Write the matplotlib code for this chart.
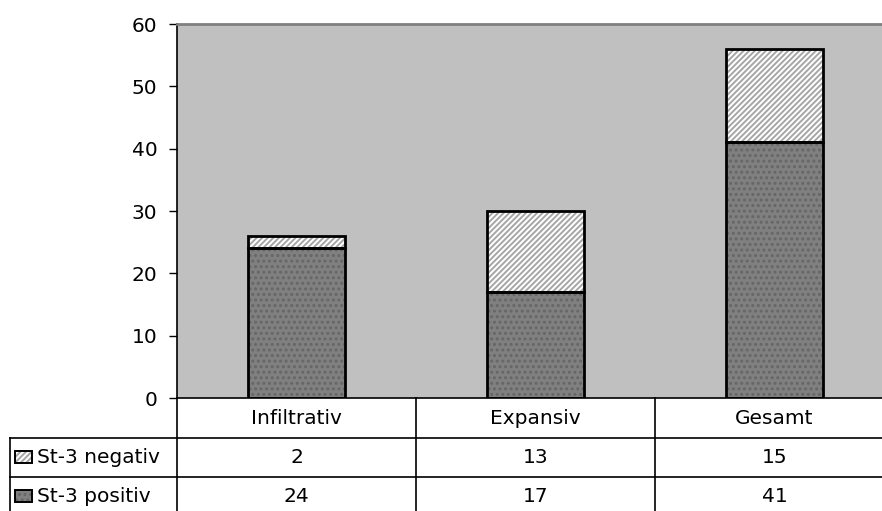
import matplotlib
matplotlib.use("Agg")
import matplotlib.pyplot as plt
from matplotlib.patches import Rectangle
from matplotlib.lines import Line2D
from matplotlib.transforms import blended_transform_factory

plt.rcParams['font.family'] = ['DejaVu Sans']
plt.rcParams['hatch.linewidth'] = 1.4

categories = ["Infiltrativ", "Expansiv", "Gesamt"]
series_names = ["St-3 negativ", "St-3 positiv"]
negativ = [2, 13, 15]
positiv = [24, 17, 41]
y_ticks = [0, 10, 20, 30, 40, 50, 60]

FS = 14.5
W, H = 882, 511
fig = plt.figure(figsize=(W / 100, H / 100), dpi=100)
fig.patch.set_facecolor("white")

def fx(px):
    return px / W

def fy(py):
    return 1 - py / H

plot_left, plot_right, plot_top, plot_bottom = 177, 894, 24, 398
ax = fig.add_axes([fx(plot_left), fy(plot_bottom),
                   fx(plot_right - plot_left), (plot_bottom - plot_top) / H])
ax.set_facecolor("#c0c0c0")
ax.set_xlim(-0.5, len(categories) - 0.5)
ax.set_ylim(0, 60)
ax.set_yticks(y_ticks)
ax.set_yticklabels([str(t) for t in y_ticks], fontsize=FS)
ax.tick_params(axis="y", direction="out", length=6, width=1, pad=8, colors="black")
ax.set_xticks([])

for side in ("right", "bottom"):
    ax.spines[side].set_visible(False)
ax.spines["left"].set_color("black")
ax.spines["left"].set_linewidth(1.2)
ax.spines["top"].set_color("#808080")
ax.spines["top"].set_linewidth(2)

x = list(range(len(categories)))
bw = 0.405

pos_face, pos_hatch = "#808080", "#666666"
neg_face, neg_hatch = "#ffffff", "#a6a6a6"
neg_pattern = "//////"
pos_pattern = "..."

# patterned fills
ax.bar(x, positiv, width=bw, color=pos_face, edgecolor=pos_hatch,
       hatch=pos_pattern, linewidth=0, zorder=2)
ax.bar(x, negativ, width=bw, bottom=positiv, color=neg_face,
       edgecolor=neg_hatch, hatch=neg_pattern, linewidth=0, zorder=2)
# outlines
ax.bar(x, positiv, width=bw, fill=False, edgecolor="black", linewidth=2, zorder=3)
ax.bar(x, negativ, width=bw, bottom=positiv, fill=False,
       edgecolor="black", linewidth=2, zorder=3)

# data table below the plot
bt = blended_transform_factory(ax.transData, fig.transFigure)
ft = fig.transFigure

row_edges = [398, 438, 477, 516]
col_edges = [-0.5, 0.5, 1.5, 2.5]
legend_left = 10

def hline(x0, x1, py):
    fig.add_artist(Line2D([x0, x1], [fy(py), fy(py)], transform=ft,
                          color="black", linewidth=1.2))

# horizontal rules
hline(fx(plot_left), 1, row_edges[0])
hline(fx(legend_left), 1, row_edges[1])
hline(fx(legend_left), 1, row_edges[2])

# vertical rules between columns
for c in col_edges:
    fig.add_artist(Line2D([c, c], [fy(row_edges[0]), fy(row_edges[3])],
                          transform=bt, color="black", linewidth=1.2))
fig.add_artist(Line2D([fx(legend_left)] * 2, [fy(row_edges[1]), fy(row_edges[3])],
                      transform=ft, color="black", linewidth=1.2))

def row_center(i):
    return fy((row_edges[i] + row_edges[i + 1]) / 2)

for i, cat in enumerate(categories):
    ax.text(i, row_center(0), cat, transform=bt, fontsize=FS,
            ha="center", va="center", clip_on=False)
    ax.text(i, row_center(1), str(negativ[i]), transform=bt, fontsize=FS,
            ha="center", va="center", clip_on=False)
    ax.text(i, row_center(2), str(positiv[i]), transform=bt, fontsize=FS,
            ha="center", va="center", clip_on=False)

# legend keys in the table
styles = [(neg_face, neg_hatch, neg_pattern), (pos_face, pos_hatch, pos_pattern)]
for r, (name, (face, hc, hatch)) in enumerate(zip(series_names, styles), start=1):
    cy = (row_edges[r] + row_edges[r + 1]) / 2 - 1
    kw, kh = 17, 12
    fig.add_artist(Rectangle((fx(15), fy(cy + kh / 2)), kw / W, kh / H,
                             transform=ft, facecolor=face, edgecolor=hc,
                             hatch=hatch, linewidth=0))
    fig.add_artist(Rectangle((fx(15), fy(cy + kh / 2)), kw / W, kh / H,
                             transform=ft, fill=False, edgecolor="black",
                             linewidth=1.4))
    fig.text(fx(37), fy(cy + 1), name, fontsize=FS, ha="left", va="center")

fig.savefig("out.png", dpi=100)
